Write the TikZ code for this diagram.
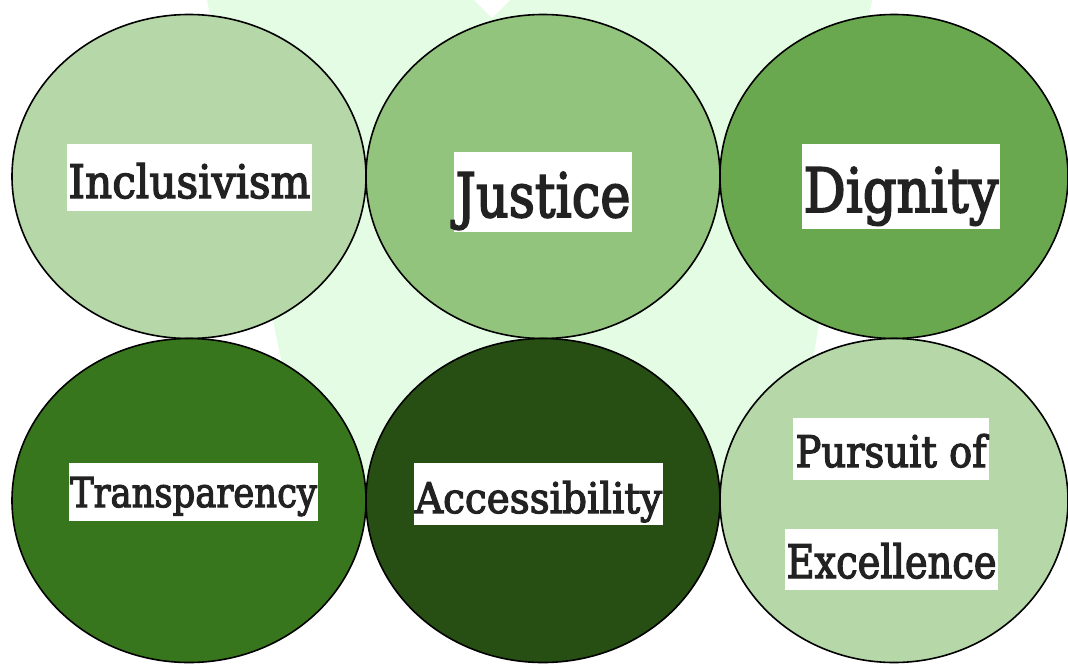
\documentclass[tikz,border=0pt]{standalone}
\usepackage{fontspec}
\setmainfont{DejaVu Serif}
\newfontfamily\tagfont{DejaVu Serif}[FakeBold=3]
\usetikzlibrary{shapes.geometric}

\definecolor{backdrop}{HTML}{E3FCE3}
\definecolor{greenpale}{HTML}{B6D7A8}
\definecolor{greenlight}{HTML}{93C47D}
\definecolor{greenmid}{HTML}{6AA84F}
\definecolor{greendark}{HTML}{38761D}
\definecolor{greendeep}{HTML}{274E13}
\definecolor{inkgray}{HTML}{222222}

\newcommand{\fitword}[3]{\resizebox{#1pt}{#2pt}{\tagfont #3}}

\tikzset{
  disc/.style={ellipse, draw=black, line width=1.6pt, inner sep=0pt,
    minimum width=354pt, minimum height=324pt},
  tag/.style={fill=white, inner sep=0pt, anchor=base, text=inkgray},
}

\begin{document}
\begin{tikzpicture}[x=1pt,y=-1pt]
  \useasboundingbox (0,0) rectangle (1068,664);
  % faint backdrop
  \fill[backdrop] (207,0) -- (872,0) -- (790,500) -- (310,500) -- cycle;
  \fill[white] (474,0) -- (510,0) -- (492,18) -- cycle;
  % top row
  \node[disc, fill=greenpale]  (incl) at (189,176.5) {};
  \node[disc, fill=greenlight] (just) at (543,176.5) {};
  \node[disc, fill=greenmid, minimum width=348pt] (dign) at (894,176.5) {};
  % bottom row
  \node[disc, fill=greendark] (tran) at (189,500.5) {};
  \node[disc, fill=greendeep] (acce) at (543,500.5) {};
  \node[disc, fill=greenpale, minimum width=348pt] (purs) at (894,500.5) {};
  % labels
  \node[tag, minimum width=245pt, text height=54pt, text depth=13pt] (inclt) at (189.5,198) {\fitword{242}{35}{Inclusivism}};
  \node[tag, minimum width=178pt, text height=65pt, text depth=15pt] (justt) at (543,217) {\fitword{175}{45}{Justice}};
  \node[tag, minimum width=198pt, text height=68pt, text depth=17pt] (dignt) at (901,212) {\fitword{195}{45}{Dignity}};
  \node[tag, minimum width=249pt, text height=44pt, text depth=14pt] (trant) at (193.5,507) {\fitword{247}{30}{Transparency}};
  \node[tag, minimum width=249pt, text height=50pt, text depth=12pt] (accet) at (538.5,513) {\fitword{247}{32}{Accessibility}};
  \node[tag, minimum width=196pt, text height=49pt, text depth=13pt] (purst) at (891,467) {\fitword{191}{33}{Pursuit of}};
  \node[tag, minimum width=213pt, text height=49pt, text depth=12pt] (excet) at (891.5,578) {\fitword{210}{35}{Excellence}};
\end{tikzpicture}
\end{document}
